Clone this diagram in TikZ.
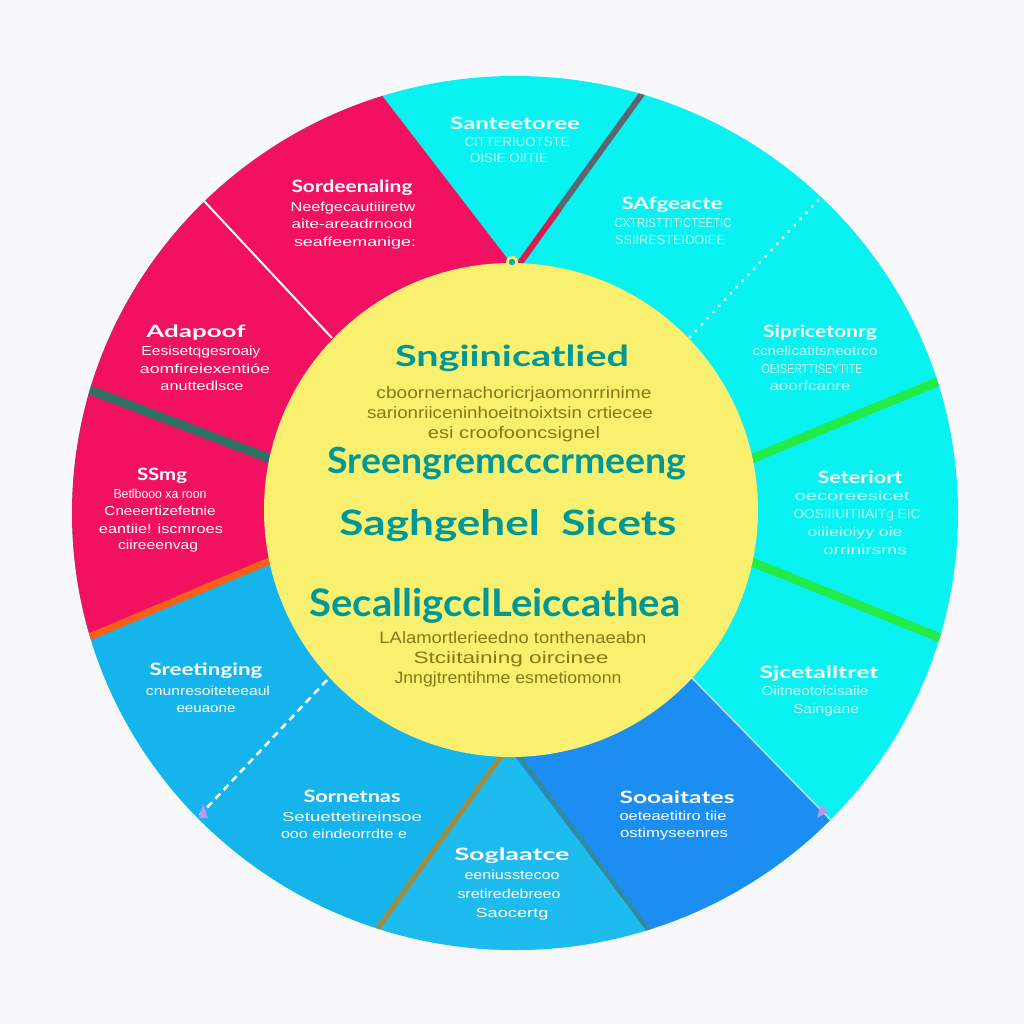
\documentclass[tikz,border=0pt]{standalone}
\usepackage{fontspec}
\usepackage{graphicx}
\newfontfamily\headfont{Lato}
\newfontfamily\bodyfont{Liberation Sans}
\definecolor{bgc}{RGB}{248,248,250}
\definecolor{pinkc}{RGB}{242,16,96}
\definecolor{cyanc}{RGB}{8,242,242}
\definecolor{bluec}{RGB}{22,180,236}
\definecolor{midblue}{RGB}{30,188,238}
\definecolor{deepblue}{RGB}{28,142,242}
\definecolor{yelc}{RGB}{250,240,112}
\definecolor{tealtxt}{RGB}{0,152,150}
\definecolor{olivetxt}{RGB}{134,122,20}
\definecolor{paletxt}{RGB}{200,250,250}
\definecolor{grayst}{RGB}{95,100,110}
\definecolor{redst}{RGB}{212,30,78}
\definecolor{tealst}{RGB}{48,112,100}
\definecolor{orangest}{RGB}{246,96,24}
\definecolor{greenst}{RGB}{34,234,72}
\definecolor{olivest}{RGB}{160,140,62}
\definecolor{tealline}{RGB}{50,140,150}
\definecolor{lavc}{RGB}{185,150,240}
\definecolor{edgec}{RGB}{175,230,250}
\newcommand\fw[3]{\resizebox{#1pt}{\height}{#2#3}}
\newcommand\hsz{\headfont\bfseries\fontsize{17}{17}\selectfont}
\newcommand\ssz{\bodyfont\fontsize{13}{13}\selectfont}
\newcommand\tsz[1]{\headfont\bfseries\fontsize{#1}{#1}\selectfont}
\newcommand\csz{\bodyfont\fontsize{16.5}{16.5}\selectfont}
\tikzset{
  lbl/.style={anchor=base, inner sep=0pt, outer sep=0pt},
  wt/.style={lbl, text=white},
  pt/.style={lbl, text=paletxt},
  ct/.style={lbl, text=tealtxt},
  ot/.style={lbl, text=olivetxt},
  stripe/.style={line width=#1, line cap=butt},
}
\begin{document}
\begin{tikzpicture}[x=1pt,y=-1pt]
\useasboundingbox (0,0) rectangle (1024,1024);
\fill[bgc] (0,0) rectangle (1024,1024);
\coordinate (O) at (515,513);
\coordinate (C) at (511,510);
\begin{scope}
  \clip (O) ellipse [x radius=443pt, y radius=437pt];
  \fill[cyanc] (0,0) rectangle (1024,1024);
  % pink region
  \fill[pinkc] (C) -- (510,262) -- (330,28) -- (0,28) -- (0,675) -- (350,527) -- cycle;
  % lower-left blue region
  \fill[bluec] (C) -- (350,527) -- (0,675) -- (0,1024) -- (309,1024) -- (498,760) -- (512,753) -- cycle;
  % middle bottom wedge
  \fill[midblue] (512,753) -- (498,760) -- (309,1024) -- (718,1024) -- cycle;
  % deep blue
  \fill[deepblue] (C) -- (512,753) -- (718,1024) -- (1030,1024) -- (651,636) -- cycle;
  \draw[edgec, line width=1.5pt] (651,636) -- (1030,1024);
  % stripes
  \draw[stripe=6pt, grayst] (558,210) -- (665,62);
  \draw[stripe=6pt, redst] (515,270) -- (559,209);
  \draw[stripe=9pt, tealst] (300,470) -- (40,371);
  \draw[stripe=7pt, orangest] (300,548) -- (30,662);
  \draw[stripe=9pt, greenst] (720,472) -- (990,360);
  \draw[stripe=9pt, greenst] (720,549) -- (990,658);
  \draw[stripe=5pt, olivest] (507,748) -- (350,967);
  \draw[stripe=4pt, tealline] (516,752) -- (675,966);
  % white lines
  \draw[white, line width=2pt] (190,186) -- (332,338);
  \draw[white, line width=2.5pt, dash pattern=on 7pt off 5pt] (327,680) -- (200,815);
  \draw[white, line width=3pt, line cap=round, dash pattern=on 0.5pt off 8pt] (690,337) -- (822,196);
  % lavender tips
  \fill[lavc] (199,818) -- (203,804) -- (208,818) -- cycle;
  \fill[lavc] (817,818) -- (821,804) -- (828,812) -- cycle;
\end{scope}
% inner circle
\fill[yelc] (C) circle [radius=247pt];
\fill[yelc] (512,262) circle [radius=6pt];
\fill[tealtxt!80!cyan] (512,262) circle [radius=3.2pt];

% centre texts
\node[ct] (t1) at (512,366) {\fw{234}{\tsz{29}}{Sngiinicatlied}};
\node[ot] (t1a) at (514,398) {\fw{275}{\csz}{cboornernachoricrjaomonrrinime}};
\node[ot] (t1b) at (510,418) {\fw{286}{\csz}{sarionriiceninhoeitnoixtsin crtiecee}};
\node[ot] (t1c) at (514,438) {\fw{172}{\csz}{esi croofooncsignel}};
\node[ct] (t2) at (507,473) {\fw{359}{\tsz{36}}{Sreengremcccrmeeng}};
\node[ct] (t3) at (508,535) {\fw{337}{\tsz{35}}{Saghgehel\ \ Sicets}};
\node[ct] (t4) at (495,616) {\fw{371}{\tsz{38}}{SecalligcclLeiccathea}};
\node[ot] (t4a) at (513,643) {\fw{267}{\csz}{LAlamortlerieedno tonthenaeabn}};
\node[ot] (t4b) at (511,663) {\fw{195}{\csz}{Stciitaining oircinee}};
\node[ot] (t4c) at (508,683) {\fw{227}{\csz}{Jnngjtrentihme esmetiomonn}};

% top wedge
\node[wt] (s1) at (515,130) {\fw{130}{\hsz}{Santeetoree}};
\node[pt] (s1a) at (517,147) {\fw{105}{\ssz}{CITTERIUOTSTE}};
\node[pt] (s1b) at (509,163) {\fw{78}{\ssz}{OISIE OIITIE}};
% Sordeenaling
\node[wt] (s2) at (352,193) {\fw{121}{\hsz}{Sordeenaling}};
\node[wt] (s2a) at (353,212) {\fw{125}{\ssz}{Neefgecautiiiretw}};
\node[wt] (s2b) at (352,229) {\fw{121}{\ssz}{aite-areadrnood}};
\node[wt] (s2c) at (355,246) {\fw{122}{\ssz}{seaffeemanige:}};
% SAfgeacte
\node[wt] (s3) at (672,210) {\fw{101}{\hsz}{SAfgeacte}};
\node[pt] (s3a) at (673,228) {\fw{117}{\ssz}{CXTRISTTITICTEETIC}};
\node[pt] (s3b) at (670,244) {\fw{110}{\ssz}{SSIIRESTEIDOIEE}};
% Adapoof
\node[wt] (s4) at (196,337) {\fw{99}{\hsz}{Adapoof}};
\node[wt] (s4a) at (201,355) {\fw{119}{\ssz}{Eesisetqgesroaiy}};
\node[wt] (s4b) at (205,373) {\fw{130}{\ssz}{aomfireiexentióe}};
\node[wt] (s4c) at (202,390) {\fw{83}{\ssz}{anuttedlsce}};
% Sipricetonrg
\node[wt] (s5) at (820,337) {\fw{114}{\hsz}{Sipricetonrg}};
\node[pt] (s5a) at (815,355) {\fw{125}{\ssz}{ccnelicatitsneotrco}};
\node[pt] (s5b) at (812,373) {\fw{101}{\ssz}{OEISERTTISEYTITE}};
\node[pt] (s5c) at (810,390) {\fw{81}{\ssz}{aoorfcanre}};
% SSmg
\node[wt] (s6) at (162,480) {\fw{50}{\hsz}{SSmg}};
\node[wt] (s6a) at (160,498) {\fw{93}{\ssz}{Betlbooo xa roon}};
\node[wt] (s6b) at (160,515) {\fw{111}{\ssz}{Cneeertizefetnie}};
\node[wt] (s6c) at (161,533) {\fw{124}{\ssz}{eantiie! iscmroes}};
\node[wt] (s6d) at (158,549) {\fw{80}{\ssz}{ciireeenvag}};
% Seteriort
\node[wt] (s7) at (860,483) {\fw{85}{\hsz}{Seteriort}};
\node[pt] (s7a) at (852,500) {\fw{115}{\ssz}{oecoreesicet}};
\node[pt] (s7b) at (857,518) {\fw{127}{\ssz}{OOSIIIUITIIAITg EIC}};
\node[pt] (s7c) at (855,536) {\fw{95}{\ssz}{oiiieioiyy oie}};
\node[pt] (s7d) at (865,554) {\fw{84}{\ssz}{orrinirsms}};
% Sreetinging
\node[wt] (s8) at (206,675) {\fw{113}{\hsz}{Sreetinging}};
\node[wt] (s8a) at (208,695) {\fw{124}{\ssz}{cnunresoiteteeaul}};
\node[wt] (s8b) at (206,712) {\fw{59}{\ssz}{eeuaone}};
% Sjcetalltret
\node[wt] (s9) at (819,678) {\fw{119}{\hsz}{Sjcetalltret}};
\node[pt] (s9a) at (815,695) {\fw{107}{\ssz}{Oiitneotoicisaiie}};
\node[pt] (s9b) at (826,713) {\fw{66}{\ssz}{Saingane}};
% Sornetnas
\node[wt] (s10) at (352,802) {\fw{97}{\hsz}{Sornetnas}};
\node[wt] (s10a) at (352,821) {\fw{140}{\ssz}{Setuettetireinsoe}};
\node[wt] (s10b) at (344,838) {\fw{126}{\ssz}{ooo eindeorrdte e}};
% Soglaatce
\node[wt] (s11) at (512,860) {\fw{115}{\hsz}{Soglaatce}};
\node[wt] (s11a) at (512,879) {\fw{95}{\ssz}{eeniusstecoo}};
\node[wt] (s11b) at (509,898) {\fw{103}{\ssz}{sretiredebreeo}};
\node[wt] (s11c) at (512,917) {\fw{73}{\ssz}{Saocertg}};
% Sooaitates
\node[wt] (s12) at (677,803) {\fw{115}{\hsz}{Sooaitates}};
\node[wt] (s12a) at (673,820) {\fw{107}{\ssz}{oeteaetitiro tiie}};
\node[wt] (s12b) at (674,837) {\fw{108}{\ssz}{ostimyseenres}};
\end{tikzpicture}
\end{document}
